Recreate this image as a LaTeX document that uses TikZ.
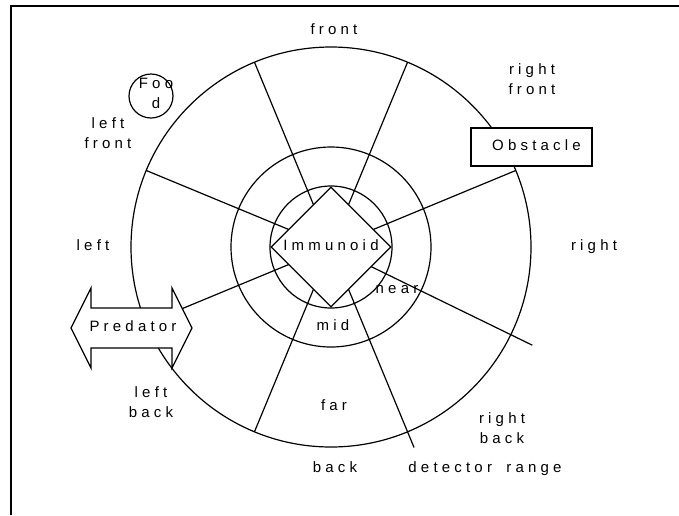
\documentclass[tikz,border=0pt]{standalone}
\usepackage{fontspec}
\usepackage{tikz}
\usetikzlibrary{positioning,shapes.geometric}
\newfontfamily\zonefont{Liberation Sans}[LetterSpace=28]

\begin{document}
\begin{tikzpicture}[x=1pt,y=-1pt,line width=1.2pt,
  zone/.style={font=\zonefont\fontsize{15}{20}\selectfont,align=center,inner sep=1pt},
  zoneone/.style={zone,text height=10.5pt,text depth=3pt}]
  \useasboundingbox (0,0) rectangle (679,515);
  \draw[line width=1.8pt] (11,515) -- (11,6) -- (679,6);
  \coordinate (c) at (331,247);
  \foreach \r in {61,100,200}
    \draw (c) circle (\r pt);
  \foreach \a/\r in {22.5/200,67.5/200,112.5/200,157.5/200,202.5/200,247.5/200,292.5/217,334/224}
    \draw (c) -- ++(\a:\r pt);
  \node[diamond,draw,fill=white,minimum width=120pt,minimum height=120pt,
    inner sep=0pt,zoneone] (immunoid) at (c) {Immunoid};
  \node[draw,fill=white,minimum width=121pt,minimum height=38pt,zoneone]
    (obstacle) at (531.5,147) {\hspace{10pt}Obstacle};
  \draw[fill=white] (71,328) -- (91,288) -- (91,308) -- (172,308) -- (172,288)
    -- (192,328) -- (172,368) -- (172,348) -- (91,348) -- (91,368) -- cycle;
  \node[zoneone] (predator) at (133,328) {Predator};
  \draw (151,96) circle (22pt);
  \node[zone] (food) at (156,93) {Foo\\d};
  \node[zoneone] (front) at (334,31) {front};
  \node[zone] (rfront) at (532,79) {right\\front};
  \node[zoneone] (right) at (594,247) {right};
  \node[zone] (rback) at (502,428) {right\\back};
  \node[zoneone] (range) at (485,469) {detector\hspace{6pt} range};
  \node[zoneone] (back) at (335,469) {back};
  \node[zoneone] (far) at (334,407) {far};
  \node[zoneone] (mid) at (333,327) {mid};
  \node[zoneone] (near) at (397,290) {near};
  \node[zone] (lback) at (151,402) {left\\back};
  \node[zoneone] (left) at (93,247) {left};
  \node[zone] (lfront) at (108,133) {left\\front};
\end{tikzpicture}
\end{document}
